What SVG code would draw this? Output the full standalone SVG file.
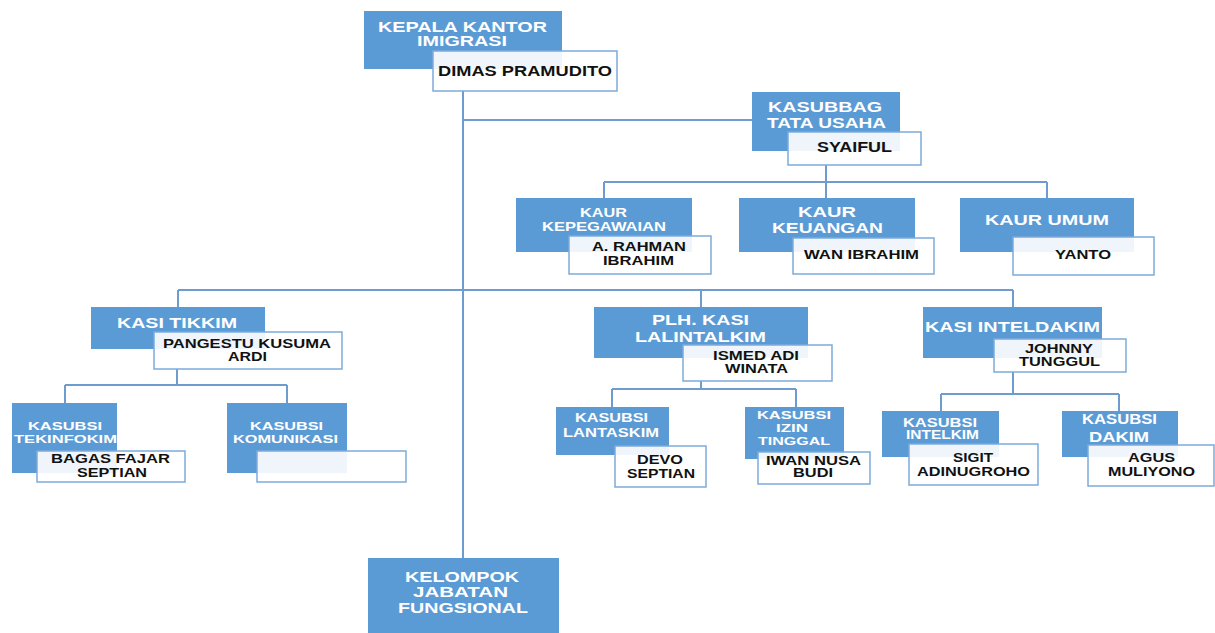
<svg xmlns="http://www.w3.org/2000/svg" width="1215" height="633" viewBox="0 0 1215 633">
<style>
.b{fill:#5b9bd5}
.w{fill:#fff;fill-opacity:.9;stroke:#7eaadb;stroke-width:1.5}
text{font-family:"Liberation Sans",Arial,sans-serif;font-weight:bold;text-anchor:middle}
.tw{fill:#fff}
.tk{fill:#111}
.c{fill:none;stroke:#6e9ccf;stroke-width:2}
</style>
<rect width="1215" height="633" fill="#fff"/>
<g id="connectors">
<path class="c" d="M463,91V558M463,120H752"/>
<path class="c" d="M826,165V182M604,182H1047M604,182V198M826,182V198M1047,182V198"/>
<path class="c" d="M178,290H1013M178,290V307M701,290V307M1013,290V307"/>
<path class="c" d="M177,369V385M65,385H287M65,385V403M287,385V403"/>
<path class="c" d="M701,381V389M612,389H796M612,389V407M796,389V407"/>
<path class="c" d="M1013,372V394M941,394H1119M941,394V411M1119,394V411"/>
</g>
<g id="kepala">
<rect class="b" x="364" y="11" width="198" height="58"/>
<text class="tw" font-size="14.5" x="462.5" y="32" textLength="169" lengthAdjust="spacingAndGlyphs">KEPALA KANTOR</text>
<text class="tw" font-size="14.5" x="462" y="46" textLength="90" lengthAdjust="spacingAndGlyphs">IMIGRASI</text>
<rect class="w" x="433" y="51" width="184" height="40"/>
<text class="tk" font-size="14" x="525" y="76" textLength="174" lengthAdjust="spacingAndGlyphs">DIMAS PRAMUDITO</text>
</g>
<g id="kasubbag">
<rect class="b" x="752" y="92" width="148" height="59"/>
<text class="tw" font-size="14" x="825" y="112" textLength="114" lengthAdjust="spacingAndGlyphs">KASUBBAG</text>
<text class="tw" font-size="14" x="826.5" y="128" textLength="119" lengthAdjust="spacingAndGlyphs">TATA USAHA</text>
<rect class="w" x="788" y="132" width="133" height="33"/>
<text class="tk" font-size="14" x="854.5" y="152" textLength="75" lengthAdjust="spacingAndGlyphs">SYAIFUL</text>
</g>
<g id="kaur-kepegawaian">
<rect class="b" x="516" y="198" width="176" height="54"/>
<text class="tw" font-size="12" x="603.5" y="217" textLength="47" lengthAdjust="spacingAndGlyphs">KAUR</text>
<text class="tw" font-size="12" x="604" y="231" textLength="124" lengthAdjust="spacingAndGlyphs">KEPEGAWAIAN</text>
<rect class="w" x="569" y="236" width="142" height="38"/>
<text class="tk" font-size="12" x="639" y="251" textLength="94" lengthAdjust="spacingAndGlyphs">A. RAHMAN</text>
<text class="tk" font-size="12" x="638.5" y="265" textLength="71" lengthAdjust="spacingAndGlyphs">IBRAHIM</text>
</g>
<g id="kaur-keuangan">
<rect class="b" x="739" y="198" width="176" height="54"/>
<text class="tw" font-size="15.5" x="827" y="217" textLength="58" lengthAdjust="spacingAndGlyphs">KAUR</text>
<text class="tw" font-size="15.5" x="827.5" y="233" textLength="111" lengthAdjust="spacingAndGlyphs">KEUANGAN</text>
<rect class="w" x="793" y="238" width="141" height="36"/>
<text class="tk" font-size="12.5" x="861.5" y="259" textLength="115" lengthAdjust="spacingAndGlyphs">WAN IBRAHIM</text>
</g>
<g id="kaur-umum">
<rect class="b" x="960" y="198" width="174" height="54"/>
<text class="tw" font-size="15" x="1047" y="225" textLength="124" lengthAdjust="spacingAndGlyphs">KAUR UMUM</text>
<rect class="w" x="1013" y="237" width="141" height="38"/>
<text class="tk" font-size="13" x="1083" y="259" textLength="56" lengthAdjust="spacingAndGlyphs">YANTO</text>
</g>
<g id="kasi-tikkim">
<rect class="b" x="91" y="307" width="174" height="42"/>
<text class="tw" font-size="15" x="177" y="328" textLength="120" lengthAdjust="spacingAndGlyphs">KASI TIKKIM</text>
<rect class="w" x="154" y="332" width="188" height="37"/>
<text class="tk" font-size="13" x="247" y="348" textLength="168" lengthAdjust="spacingAndGlyphs">PANGESTU KUSUMA</text>
<text class="tk" font-size="13" x="247.5" y="361" textLength="39" lengthAdjust="spacingAndGlyphs">ARDI</text>
</g>
<g id="kasubsi-tekinfokim">
<rect class="b" x="12" y="403" width="105" height="70"/>
<text class="tw" font-size="11.5" x="65" y="430" textLength="74" lengthAdjust="spacingAndGlyphs">KASUBSI</text>
<text class="tw" font-size="11.5" x="65.5" y="443" textLength="103" lengthAdjust="spacingAndGlyphs">TEKINFOKIM</text>
<rect class="w" x="37" y="451" width="148" height="31"/>
<text class="tk" font-size="13" x="110.5" y="463" textLength="119" lengthAdjust="spacingAndGlyphs">BAGAS FAJAR</text>
<text class="tk" font-size="13" x="112" y="477" textLength="70" lengthAdjust="spacingAndGlyphs">SEPTIAN</text>
</g>
<g id="kasubsi-komunikasi">
<rect class="b" x="227" y="403" width="120" height="70"/>
<text class="tw" font-size="11.5" x="286.5" y="430" textLength="73" lengthAdjust="spacingAndGlyphs">KASUBSI</text>
<text class="tw" font-size="11.5" x="285.5" y="443" textLength="105" lengthAdjust="spacingAndGlyphs">KOMUNIKASI</text>
<rect class="w" x="257" y="451" width="149" height="31"/>
</g>
<g id="kasi-lalintalkim">
<rect class="b" x="594" y="307" width="214" height="51"/>
<text class="tw" font-size="15" x="700.5" y="325" textLength="97" lengthAdjust="spacingAndGlyphs">PLH. KASI</text>
<text class="tw" font-size="15" x="700.5" y="342" textLength="131" lengthAdjust="spacingAndGlyphs">LALINTALKIM</text>
<rect class="w" x="683" y="345" width="149" height="36"/>
<text class="tk" font-size="12.5" x="756" y="360" textLength="86" lengthAdjust="spacingAndGlyphs">ISMED ADI</text>
<text class="tk" font-size="12.5" x="756.5" y="373" textLength="63" lengthAdjust="spacingAndGlyphs">WINATA</text>
</g>
<g id="kasubsi-lantaskim">
<rect class="b" x="556" y="407" width="113" height="48"/>
<text class="tw" font-size="12.5" x="611.5" y="422" textLength="73" lengthAdjust="spacingAndGlyphs">KASUBSI</text>
<text class="tw" font-size="12.5" x="611" y="437" textLength="96" lengthAdjust="spacingAndGlyphs">LANTASKIM</text>
<rect class="w" x="615" y="446" width="91" height="41"/>
<text class="tk" font-size="13.5" x="660" y="464" textLength="46" lengthAdjust="spacingAndGlyphs">DEVO</text>
<text class="tk" font-size="13.5" x="661" y="478" textLength="68" lengthAdjust="spacingAndGlyphs">SEPTIAN</text>
</g>
<g id="kasubsi-izin-tinggal">
<rect class="b" x="745" y="407" width="99" height="52"/>
<text class="tw" font-size="11" x="794" y="419" textLength="74" lengthAdjust="spacingAndGlyphs">KASUBSI</text>
<text class="tw" font-size="11" x="792" y="432" textLength="32" lengthAdjust="spacingAndGlyphs">IZIN</text>
<text class="tw" font-size="11" x="794" y="445" textLength="72" lengthAdjust="spacingAndGlyphs">TINGGAL</text>
<rect class="w" x="758" y="452" width="112" height="32"/>
<text class="tk" font-size="12" x="813.5" y="465" textLength="95" lengthAdjust="spacingAndGlyphs">IWAN NUSA</text>
<text class="tk" font-size="12" x="813" y="477" textLength="40" lengthAdjust="spacingAndGlyphs">BUDI</text>
</g>
<g id="kasi-inteldakim">
<rect class="b" x="923" y="307" width="179" height="51"/>
<text class="tw" font-size="15.5" x="1012.5" y="332" textLength="175" lengthAdjust="spacingAndGlyphs">KASI INTELDAKIM</text>
<rect class="w" x="994" y="339" width="132" height="33"/>
<text class="tk" font-size="13" x="1059" y="353" textLength="68" lengthAdjust="spacingAndGlyphs">JOHNNY</text>
<text class="tk" font-size="13" x="1059.5" y="366" textLength="81" lengthAdjust="spacingAndGlyphs">TUNGGUL</text>
</g>
<g id="kasubsi-intelkim">
<rect class="b" x="882" y="411" width="117" height="46"/>
<text class="tw" font-size="12.5" x="940" y="427" textLength="74" lengthAdjust="spacingAndGlyphs">KASUBSI</text>
<text class="tw" font-size="12.5" x="942.5" y="439" textLength="73" lengthAdjust="spacingAndGlyphs">INTELKIM</text>
<rect class="w" x="909" y="444" width="129" height="41"/>
<text class="tk" font-size="12.5" x="973" y="462" textLength="40" lengthAdjust="spacingAndGlyphs">SIGIT</text>
<text class="tk" font-size="12.5" x="973.5" y="476" textLength="113" lengthAdjust="spacingAndGlyphs">ADINUGROHO</text>
</g>
<g id="kasubsi-dakim">
<rect class="b" x="1062" y="411" width="116" height="46"/>
<text class="tw" font-size="14" x="1119.5" y="424" textLength="75" lengthAdjust="spacingAndGlyphs">KASUBSI</text>
<text class="tw" font-size="14" x="1119" y="442" textLength="60" lengthAdjust="spacingAndGlyphs">DAKIM</text>
<rect class="w" x="1088" y="445" width="126" height="41"/>
<text class="tk" font-size="12.5" x="1151.5" y="462" textLength="47" lengthAdjust="spacingAndGlyphs">AGUS</text>
<text class="tk" font-size="12.5" x="1151.5" y="476" textLength="87" lengthAdjust="spacingAndGlyphs">MULIYONO</text>
</g>
<g id="kelompok">
<rect class="b" x="368" y="558" width="191" height="75"/>
<text class="tw" font-size="15" x="462" y="582" textLength="114" lengthAdjust="spacingAndGlyphs">KELOMPOK</text>
<text class="tw" font-size="15" x="460.5" y="597" textLength="95" lengthAdjust="spacingAndGlyphs">JABATAN</text>
<text class="tw" font-size="15" x="463" y="613" textLength="130" lengthAdjust="spacingAndGlyphs">FUNGSIONAL</text>
</g>
</svg>
